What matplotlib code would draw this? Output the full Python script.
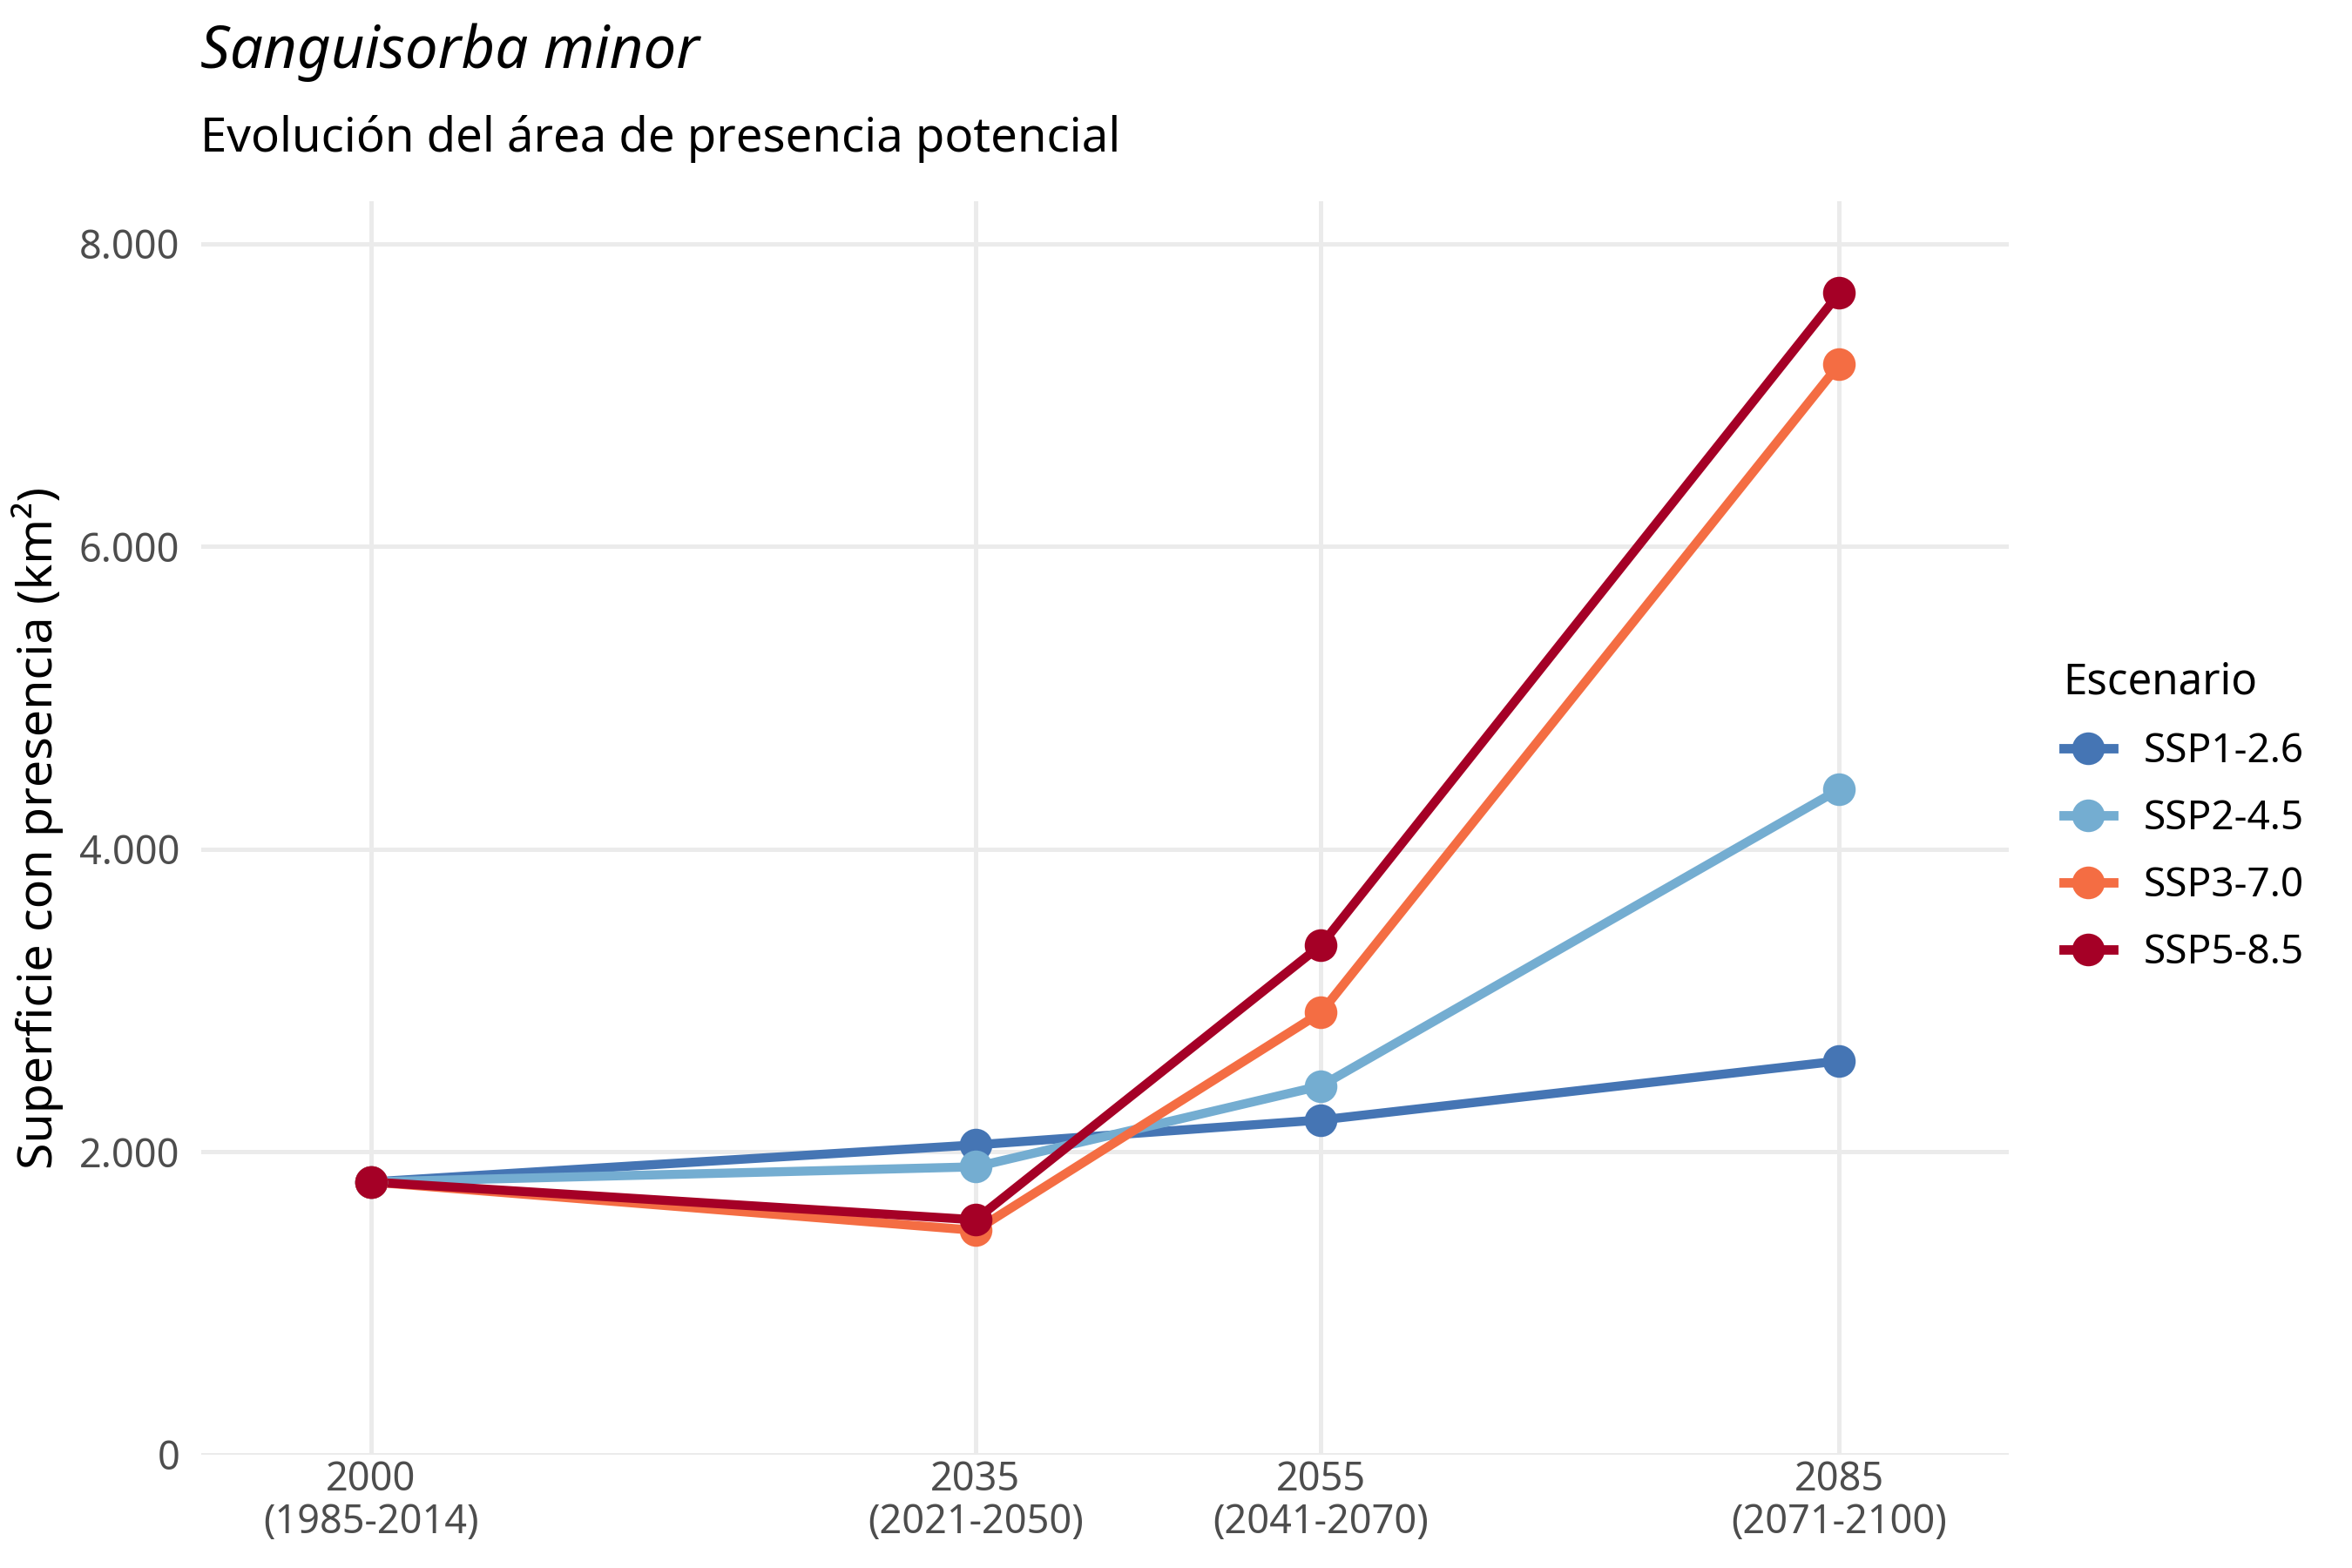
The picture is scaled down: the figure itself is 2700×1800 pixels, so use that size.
import matplotlib
matplotlib.use("Agg")
import matplotlib.pyplot as plt
from matplotlib.lines import Line2D

plt.rcParams['font.family'] = ['Noto Sans', 'DejaVu Sans']

years = [2000, 2035, 2055, 2085]
tick_labels = ["2000\n(1985-2014)", "2035\n(2021-2050)", "2055\n(2041-2070)", "2085\n(2071-2100)"]
scenarios = ["SSP1-2.6", "SSP2-4.5", "SSP3-7.0", "SSP5-8.5"]
ssp126 = [1800, 2045, 2210, 2600]
ssp245 = [1800, 1900, 2435, 4395]
ssp370 = [1800, 1480, 2920, 7205]
ssp585 = [1800, 1550, 3365, 7675]
colors = ["#4575B4", "#74ADD1", "#F46D43", "#A50026"]
series = [ssp126, ssp245, ssp370, ssp585]

fig = plt.figure(figsize=(9, 6), dpi=300)
ax = fig.add_axes([0.0857, 0.0725, 0.854 - 0.0857, 0.8715 - 0.0725])

for vals, c in zip(series, colors):
    ax.plot(years, vals, color=c, lw=2.5, solid_capstyle='butt', zorder=3)
for vals, c in zip(series, colors):
    ax.plot(years, vals, 'o', color=c, ms=9, mec='none', zorder=4)

ax.set_xlim(1990.2, 2094.8)
ax.set_ylim(0, 8280)
ax.set_xticks(years)
ax.set_xticklabels(tick_labels, linespacing=1.1)
ax.set_yticks([0, 2000, 4000, 6000, 8000])
ax.set_yticklabels(["0", "2.000", "4.000", "6.000", "8.000"])
ax.tick_params(axis='both', length=0, labelsize=10.8, labelcolor='#4D4D4D')
ax.tick_params(axis='y', pad=6)
ax.tick_params(axis='x', pad=1.5)
ax.grid(True, color='#EBEBEB', lw=1.2, zorder=0)
ax.set_axisbelow(True)
for s in ax.spines.values():
    s.set_visible(False)

ax.set_ylabel("Superficie con presencia (km²)", fontsize=13.3, color='black', labelpad=4.3)

fig.text(0.0852, 0.9567, "Sanguisorba minor", fontsize=16.1, fontstyle='italic', ha='left', va='baseline')
fig.text(0.0852, 0.9033, "Evolución del área de presencia potencial", fontsize=13.1, ha='left', va='baseline')

handles = [Line2D([0], [0], color=c, lw=2.6, marker='o', ms=9, mec='none') for c in colors]
leg = fig.legend(handles, scenarios, title="Escenario", loc='center left',
                 bbox_to_anchor=(0.862, 0.479), frameon=False, fontsize=11,
                 title_fontsize=11.8, handlelength=1.25, handletextpad=0.76,
                 labelspacing=0.68, alignment='left')

fig.savefig("out.png", dpi=300, facecolor='white')
